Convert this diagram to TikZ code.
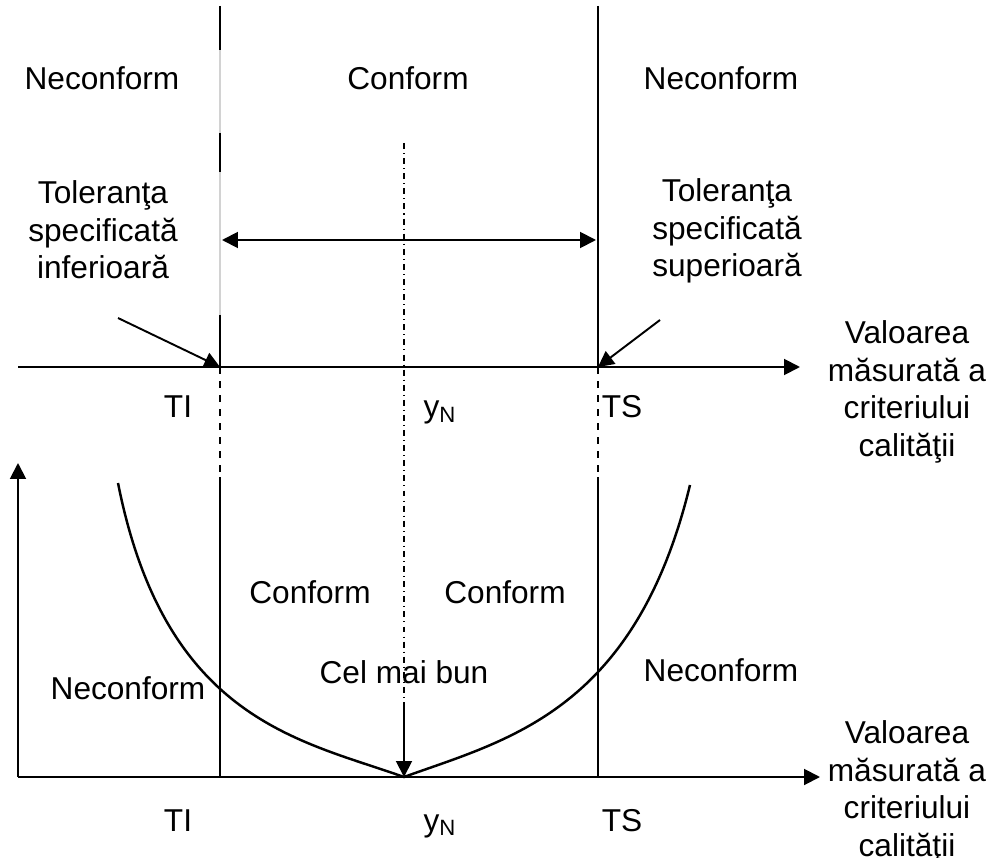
\documentclass[tikz,border=0pt]{standalone}
\usepackage{fontspec}
\setmainfont{Liberation Sans}
\usetikzlibrary{arrows.meta, positioning}

\begin{document}
\begin{tikzpicture}[x=0.02cm, y=-0.02cm,
    every node/.style={font=\fontsize{18}{21.5}\selectfont, inner sep=0pt},
    lbl/.style={anchor=base},
    blk/.style={anchor=north, align=center},
    ln/.style={line width=1.1pt},
    arr/.style={-{Triangle[length=9pt, width=9pt]}, line width=1.1pt},
    dsh/.style={line width=1.1pt, dash pattern=on 4pt off 4pt},
    midln/.style={line width=0.6pt, dash pattern=on 3.4pt off 2.3pt on 0.6pt off 2.3pt}
]
\useasboundingbox (0,0) rectangle (998,858);

% Points on the two axes
\coordinate (A0) at (18,367);
\coordinate (A1) at (800,367);
\coordinate (TIa) at (220,367);
\coordinate (TSa) at (598,367);
\coordinate (O) at (18,777);
\coordinate (B1) at (820,777);
\coordinate (Ytop) at (18,463);
\coordinate (TIb) at (220,777);
\coordinate (TSb) at (598,777);
\coordinate (V) at (404,777);

% Upper part: zones
\node[lbl] (nc1) at (102,90) {Neconform};
\node[lbl] (cf1) at (408,90) {Conform};
\node[lbl] (nc2) at (721,90) {Neconform};
\node[blk] (tinf) at (103,180) {Toleranţa\\specificată\\inferioară};
\node[blk] (tsup) at (727,178) {Toleranţa\\specificată\\superioară};

% Limits, upper part
\draw[gray!35, line width=0.6pt] (220,6) -- (TIa);
\foreach \a/\b in {6/50, 133/172, 315/367} {
    \draw[ln] (220,\a) -- (220,\b);
}
\draw[ln] (598,6) -- (TSa);
\draw[{Triangle[length=9pt, width=9pt]}-{Triangle[length=9pt, width=9pt]}, line width=1.1pt]
    (222,240) -- (596,240);
\draw[midln] (404,143) -- (404,703);

% Upper axis
\draw[arr] (A0) -- (A1);
\draw[arr] (118,318) -- (TIa);
\draw[arr] (660,320) -- (TSa);
\node[blk] (val1) at (907,320) {Valoarea\\măsurată a\\criteriului\\calităţii};
\node[lbl] (ti1) at (178,418) {TI};
\node[lbl] (yn1) at (440,418) {y\textsubscript{N}};
\node[lbl] (ts1) at (622,418) {TS};

% Lower part: limits
\draw[dsh] (TIa) -- (220,477);
\draw[ln] (220,477) -- (TIb);
\draw[dsh] (TSa) -- (598,477);
\draw[ln] (598,477) -- (TSb);

% Loss curve
\draw[line width=1.4pt] (118,483) .. controls (165,720) and (300,740) .. (V)
    .. controls (506,740) and (635,712) .. (690,485);

\node[lbl] (cf2) at (310,603) {Conform};
\node[lbl] (cf3) at (505,603) {Conform};
\node[lbl] (best) at (404,683) {Cel mai bun};
\node[lbl] (nc3) at (128,699) {Neconform};
\node[lbl] (nc4) at (721,681) {Neconform};
\draw[arr] (404,703) -- (V);

% Lower axes
\draw[arr] (O) -- (Ytop);
\draw[arr] (O) -- (B1);
\node[blk] (val2) at (907,720) {Valoarea\\măsurată a\\criteriului\\calităţii};
\node[lbl] (ti2) at (178,831) {TI};
\node[lbl] (yn2) at (440,831) {y\textsubscript{N}};
\node[lbl] (ts2) at (622,831) {TS};
\end{tikzpicture}
\end{document}
